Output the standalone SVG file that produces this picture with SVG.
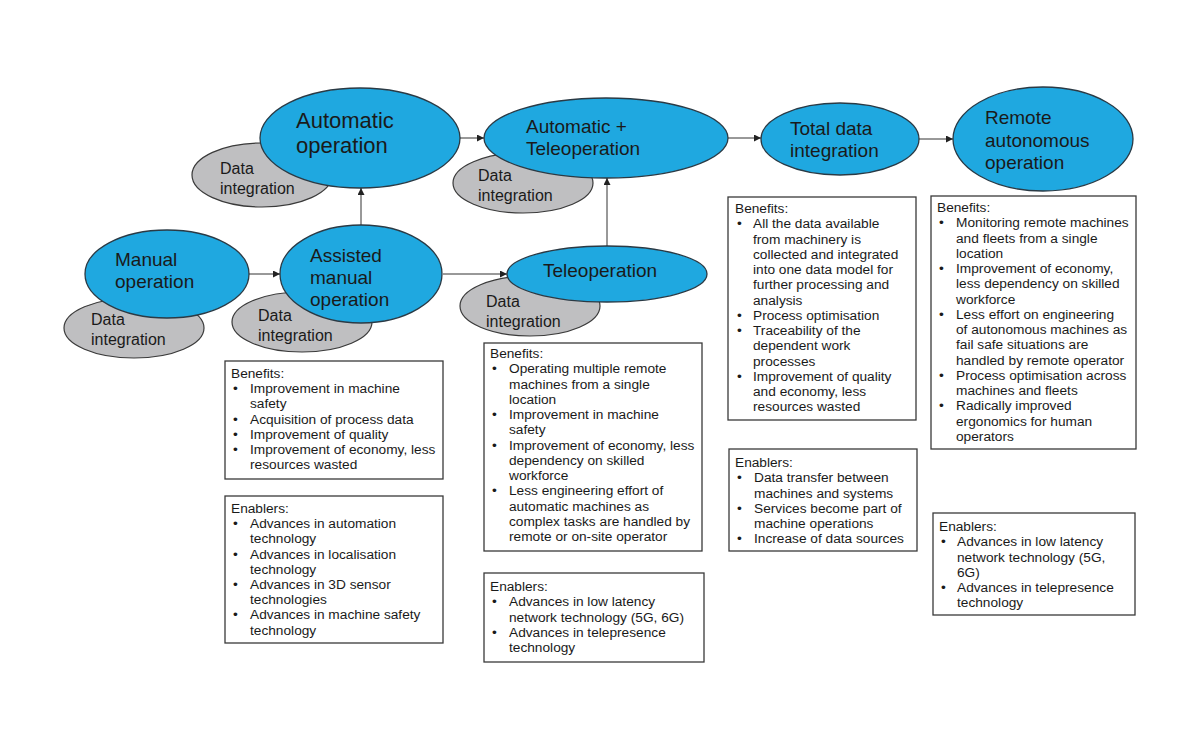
<svg xmlns="http://www.w3.org/2000/svg" width="1200" height="750" viewBox="0 0 1200 750">
<defs>
<style>
.blue{fill:#1FA8E0;stroke:#2a3a45;stroke-width:1.3}
.gray{fill:#BFBFC1;stroke:#3a3a3a;stroke-width:1.2}
.nt{font-family:"Liberation Sans",Arial,sans-serif;font-size:19px;fill:#1a1a1a}
.nt22{font-family:"Liberation Sans",Arial,sans-serif;font-size:22px;fill:#1a1a1a}
.dt{font-family:"Liberation Sans",Arial,sans-serif;font-size:16px;fill:#1a1a1a}
.box{fill:#ffffff;stroke:#3a3a3a;stroke-width:1.3}
.bt{font-family:"Liberation Sans",Arial,sans-serif;font-size:13.7px;fill:#1a1a1a}
.con{stroke:#333;stroke-width:1;fill:none}
</style>
<marker id="ah" viewBox="0 0 8 8" refX="8" refY="4" markerWidth="7" markerHeight="7" markerUnits="userSpaceOnUse" orient="auto">
<path d="M0,0 L8,4 L0,8 z" fill="#222"/>
</marker>
</defs>
<rect width="1200" height="750" fill="#ffffff"/>

<g id="di-manual"><ellipse class="gray" cx="134" cy="328" rx="70" ry="30"/><text class="dt" x="91"><tspan x="91" y="325">Data</tspan><tspan x="91" y="345">integration</tspan></text></g>
<g id="di-assisted"><ellipse class="gray" cx="302" cy="322" rx="70" ry="30"/><text class="dt"><tspan x="258" y="321">Data</tspan><tspan x="258" y="341">integration</tspan></text></g>
<g id="di-automatic"><ellipse class="gray" cx="262" cy="175" rx="70" ry="32"/><text class="dt"><tspan x="220" y="174">Data</tspan><tspan x="220" y="194">integration</tspan></text></g>
<g id="di-autotele"><ellipse class="gray" cx="523" cy="183" rx="70" ry="30"/><text class="dt"><tspan x="478" y="181">Data</tspan><tspan x="478" y="201">integration</tspan></text></g>
<g id="di-tele"><ellipse class="gray" cx="530" cy="306" rx="70" ry="30"/><text class="dt"><tspan x="486" y="307">Data</tspan><tspan x="486" y="327">integration</tspan></text></g>

<g id="manual"><ellipse class="blue" cx="167" cy="274" rx="82" ry="44"/><text class="nt"><tspan x="115" y="266">Manual</tspan><tspan x="115" y="288">operation</tspan></text></g>
<g id="assisted"><ellipse class="blue" cx="361" cy="274" rx="81" ry="49"/><text class="nt"><tspan x="310" y="262">Assisted</tspan><tspan x="310" y="284">manual</tspan><tspan x="310" y="306">operation</tspan></text></g>
<g id="automatic"><ellipse class="blue" cx="360" cy="138" rx="100" ry="50"/><text class="nt22"><tspan x="296" y="128">Automatic</tspan><tspan x="296" y="153">operation</tspan></text></g>
<g id="autotele"><ellipse class="blue" cx="606" cy="138" rx="122" ry="40"/><text class="nt"><tspan x="526" y="133">Automatic +</tspan><tspan x="526" y="155">Teleoperation</tspan></text></g>
<g id="tele"><ellipse class="blue" cx="607" cy="274" rx="100" ry="28"/><text class="nt" x="543" y="277">Teleoperation</text></g>
<g id="total"><ellipse class="blue" cx="840" cy="139" rx="79" ry="36"/><text class="nt"><tspan x="790" y="135">Total data</tspan><tspan x="790" y="157">integration</tspan></text></g>
<g id="remote"><ellipse class="blue" cx="1043" cy="139" rx="90" ry="52"/><text class="nt"><tspan x="985" y="124">Remote</tspan><tspan x="985" y="147">autonomous</tspan><tspan x="985" y="169">operation</tspan></text></g>

<g id="connectors">
<line class="con" x1="249" y1="274" x2="280" y2="274" marker-end="url(#ah)"/>
<line class="con" x1="443" y1="274" x2="507" y2="274" marker-end="url(#ah)"/>
<line class="con" x1="361" y1="225" x2="361" y2="188" marker-end="url(#ah)"/>
<line class="con" x1="460" y1="138" x2="484" y2="138" marker-end="url(#ah)"/>
<line class="con" x1="607" y1="246" x2="607" y2="178" marker-end="url(#ah)"/>
<line class="con" x1="728" y1="138" x2="761" y2="138" marker-end="url(#ah)"/>
<line class="con" x1="919" y1="139" x2="953" y2="139" marker-end="url(#ah)"/>
</g>

<g id="assisted-benefits"><rect class="box" x="225" y="361" width="218" height="118"/>
<text class="bt"><tspan x="231" y="378">Benefits:</tspan>
<tspan x="233" y="393.2">•</tspan><tspan x="250" y="393.2">Improvement in machine</tspan>
<tspan x="250" y="408.4">safety</tspan>
<tspan x="233" y="423.6">•</tspan><tspan x="250" y="423.6">Acquisition of process data</tspan>
<tspan x="233" y="438.8">•</tspan><tspan x="250" y="438.8">Improvement of quality</tspan>
<tspan x="233" y="454">•</tspan><tspan x="250" y="454">Improvement of economy, less</tspan>
<tspan x="250" y="469.2">resources wasted</tspan></text></g>

<g id="assisted-enablers"><rect class="box" x="225" y="496" width="218" height="147"/>
<text class="bt"><tspan x="231" y="513">Enablers:</tspan>
<tspan x="233" y="528.2">•</tspan><tspan x="250" y="528.2">Advances in automation</tspan>
<tspan x="250" y="543.4">technology</tspan>
<tspan x="233" y="558.6">•</tspan><tspan x="250" y="558.6">Advances in localisation</tspan>
<tspan x="250" y="573.8">technology</tspan>
<tspan x="233" y="589">•</tspan><tspan x="250" y="589">Advances in 3D sensor</tspan>
<tspan x="250" y="604.2">technologies</tspan>
<tspan x="233" y="619.4">•</tspan><tspan x="250" y="619.4">Advances in machine safety</tspan>
<tspan x="250" y="634.6">technology</tspan></text></g>

<g id="tele-benefits"><rect class="box" x="484" y="343" width="218" height="208"/>
<text class="bt"><tspan x="490" y="358">Benefits:</tspan>
<tspan x="492" y="373.25">•</tspan><tspan x="509" y="373.25">Operating multiple remote</tspan>
<tspan x="509" y="388.5">machines from a single</tspan>
<tspan x="509" y="403.75">location</tspan>
<tspan x="492" y="419">•</tspan><tspan x="509" y="419">Improvement in machine</tspan>
<tspan x="509" y="434.25">safety</tspan>
<tspan x="492" y="449.5">•</tspan><tspan x="509" y="449.5">Improvement of economy, less</tspan>
<tspan x="509" y="464.75">dependency on skilled</tspan>
<tspan x="509" y="480">workforce</tspan>
<tspan x="492" y="495.25">•</tspan><tspan x="509" y="495.25">Less engineering effort of</tspan>
<tspan x="509" y="510.5">automatic machines as</tspan>
<tspan x="509" y="525.75">complex tasks are handled by</tspan>
<tspan x="509" y="541">remote or on-site operator</tspan></text></g>

<g id="tele-enablers"><rect class="box" x="484" y="573" width="220" height="89"/>
<text class="bt"><tspan x="490" y="591">Enablers:</tspan>
<tspan x="492" y="606.25">•</tspan><tspan x="509" y="606.25">Advances in low latency</tspan>
<tspan x="509" y="621.5">network technology (5G, 6G)</tspan>
<tspan x="492" y="636.75">•</tspan><tspan x="509" y="636.75">Advances in telepresence</tspan>
<tspan x="509" y="652">technology</tspan></text></g>

<g id="total-benefits"><rect class="box" x="728" y="197" width="188" height="223"/>
<text class="bt"><tspan x="735" y="213">Benefits:</tspan>
<tspan x="737" y="228.25">•</tspan><tspan x="753" y="228.25">All the data available</tspan>
<tspan x="753" y="243.5">from machinery is</tspan>
<tspan x="753" y="258.75">collected and integrated</tspan>
<tspan x="753" y="274">into one data model for</tspan>
<tspan x="753" y="289.25">further processing and</tspan>
<tspan x="753" y="304.5">analysis</tspan>
<tspan x="737" y="319.75">•</tspan><tspan x="753" y="319.75">Process optimisation</tspan>
<tspan x="737" y="335">•</tspan><tspan x="753" y="335">Traceability of the</tspan>
<tspan x="753" y="350.25">dependent work</tspan>
<tspan x="753" y="365.5">processes</tspan>
<tspan x="737" y="380.75">•</tspan><tspan x="753" y="380.75">Improvement of quality</tspan>
<tspan x="753" y="396">and economy, less</tspan>
<tspan x="753" y="411.25">resources wasted</tspan></text></g>

<g id="total-enablers"><rect class="box" x="729" y="449" width="188" height="102"/>
<text class="bt"><tspan x="735" y="467">Enablers:</tspan>
<tspan x="737" y="482.25">•</tspan><tspan x="754" y="482.25">Data transfer between</tspan>
<tspan x="754" y="497.5">machines and systems</tspan>
<tspan x="737" y="512.75">•</tspan><tspan x="754" y="512.75">Services become part of</tspan>
<tspan x="754" y="528">machine operations</tspan>
<tspan x="737" y="543.25">•</tspan><tspan x="754" y="543.25">Increase of data sources</tspan></text></g>

<g id="remote-benefits"><rect class="box" x="931" y="196" width="205" height="253"/>
<text class="bt"><tspan x="937" y="212">Benefits:</tspan>
<tspan x="939" y="227.25">•</tspan><tspan x="956" y="227.25">Monitoring remote machines</tspan>
<tspan x="956" y="242.5">and fleets from a single</tspan>
<tspan x="956" y="257.75">location</tspan>
<tspan x="939" y="273">•</tspan><tspan x="956" y="273">Improvement of economy,</tspan>
<tspan x="956" y="288.25">less dependency on skilled</tspan>
<tspan x="956" y="303.5">workforce</tspan>
<tspan x="939" y="318.75">•</tspan><tspan x="956" y="318.75">Less effort on engineering</tspan>
<tspan x="956" y="334">of autonomous machines as</tspan>
<tspan x="956" y="349.25">fail safe situations are</tspan>
<tspan x="956" y="364.5">handled by remote operator</tspan>
<tspan x="939" y="379.75">•</tspan><tspan x="956" y="379.75">Process optimisation across</tspan>
<tspan x="956" y="395">machines and fleets</tspan>
<tspan x="939" y="410.25">•</tspan><tspan x="956" y="410.25">Radically improved</tspan>
<tspan x="956" y="425.5">ergonomics for human</tspan>
<tspan x="956" y="440.75">operators</tspan></text></g>

<g id="remote-enablers"><rect class="box" x="933" y="513" width="202" height="102"/>
<text class="bt"><tspan x="939" y="531">Enablers:</tspan>
<tspan x="941" y="546.25">•</tspan><tspan x="957" y="546.25">Advances in low latency</tspan>
<tspan x="957" y="561.5">network technology (5G,</tspan>
<tspan x="957" y="576.75">6G)</tspan>
<tspan x="941" y="592">•</tspan><tspan x="957" y="592">Advances in telepresence</tspan>
<tspan x="957" y="607.25">technology</tspan></text></g>
</svg>
